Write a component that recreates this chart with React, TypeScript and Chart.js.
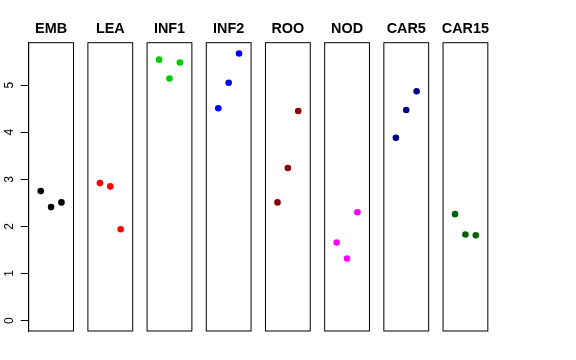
import React, { useEffect, useRef } from "react";
import { Chart, registerables } from "chart.js";

Chart.register(...registerables);

const panelNames = ["EMB", "LEA", "INF1", "INF2", "ROO", "NOD", "CAR5", "CAR15"];
const panelColors = ["#000000", "#FF0000", "#00CD00", "#0000FF", "#8B0000", "#FF00FF", "#00008B", "#006400"];
const replicates = [1, 2, 3];
const emb = [2.75, 2.41, 2.51];
const lea = [2.92, 2.85, 1.94];
const inf1 = [5.54, 5.14, 5.48];
const inf2 = [4.51, 5.05, 5.67];
const roo = [2.51, 3.24, 4.45];
const nod = [1.66, 1.32, 2.30];
const car5 = [3.88, 4.47, 4.87];
const car15 = [2.26, 1.83, 1.81];
const yTicks = [0, 1, 2, 3, 4, 5];

const panelValues = [emb, lea, inf1, inf2, roo, nod, car5, car15];

const W = 576;
const H = 360;
const FIRST_LEFT = 28.7;
const STEP = 59.19;
const PANEL_W = 44.8;
const TOP = 42.7;
const BOTTOM = 331;
const Y_MIN = -0.22;
const Y_MAX = 5.9;
const X_MIN = -0.16;
const X_MAX = 4.16;
const FONT = "'Liberation Sans', Arial, Helvetica, sans-serif";

function Panel({ index }: { index: number }) {
  const ref = useRef<HTMLCanvasElement | null>(null);
  useEffect(() => {
    const canvas = ref.current;
    if (!canvas) return;
    const left = FIRST_LEFT + STEP * index;
    const right = left + PANEL_W;
    const showAxis = index === 0;
    const boxPlugin = {
      id: "boxTitle" + index,
      afterDraw(chart: any) {
        const { ctx, chartArea } = chart;
        ctx.save();
        ctx.strokeStyle = "#000";
        ctx.lineWidth = 1;
        ctx.strokeRect(chartArea.left, chartArea.top, chartArea.right - chartArea.left, chartArea.bottom - chartArea.top);
        ctx.fillStyle = "#000";
        ctx.font = "bold 14.4px " + FONT;
        ctx.textAlign = "center";
        ctx.textBaseline = "middle";
        ctx.fillText(panelNames[index], (chartArea.left + chartArea.right) / 2, 29);
        ctx.restore();
      },
    };
    const yScale: any = {
      type: "linear",
      display: showAxis,
      min: Y_MIN,
      max: Y_MAX,
      afterBuildTicks: (scale: any) => {
        scale.ticks = yTicks.map((v) => ({ value: v }));
      },
      border: { display: true, color: "#000", width: 1 },
      grid: {
        drawOnChartArea: false,
        drawTicks: true,
        tickLength: 8,
        color: "#000",
        tickColor: "#000",
      },
      ticks: {
        color: "#000",
        font: { family: FONT, size: 12 },
        minRotation: 90,
        maxRotation: 90,
        crossAlign: "center",
        padding: 8,
      },
    };
    if (showAxis) {
      yScale.afterFit = (scale: any) => {
        scale.width = left;
      };
    }
    const chart = new Chart(canvas, {
      type: "scatter",
      data: {
        datasets: [
          {
            label: panelNames[index],
            data: replicates.map((r, j) => ({ x: r, y: panelValues[index][j] })),
            backgroundColor: panelColors[index],
            borderColor: panelColors[index],
            pointRadius: 3.3,
            pointHoverRadius: 3.3,
            borderWidth: 0,
            clip: false as any,
          },
        ],
      },
      options: {
        responsive: false,
        animation: false,
        devicePixelRatio: 1,
        layout: {
          padding: {
            left: showAxis ? 0 : left,
            right: W - right,
            top: TOP,
            bottom: H - BOTTOM,
          },
        },
        plugins: {
          legend: { display: false },
          tooltip: { enabled: false },
          title: { display: false },
        },
        scales: {
          x: {
            type: "linear",
            display: false,
            min: X_MIN,
            max: X_MAX,
          },
          y: yScale,
        },
      },
      plugins: [boxPlugin],
    } as any);
    return () => chart.destroy();
  }, [index]);
  return (
    <canvas
      ref={ref}
      width={W}
      height={H}
      style={{ position: "absolute", left: 0, top: 0, width: W, height: H }}
    />
  );
}

export default function App() {
  return (
    <div style={{ position: "absolute", left: 0, top: 0, width: W, height: H, background: "#fff" }}>
      {panelNames.map((_, i) => (
        <Panel key={i} index={i} />
      ))}
    </div>
  );
}
